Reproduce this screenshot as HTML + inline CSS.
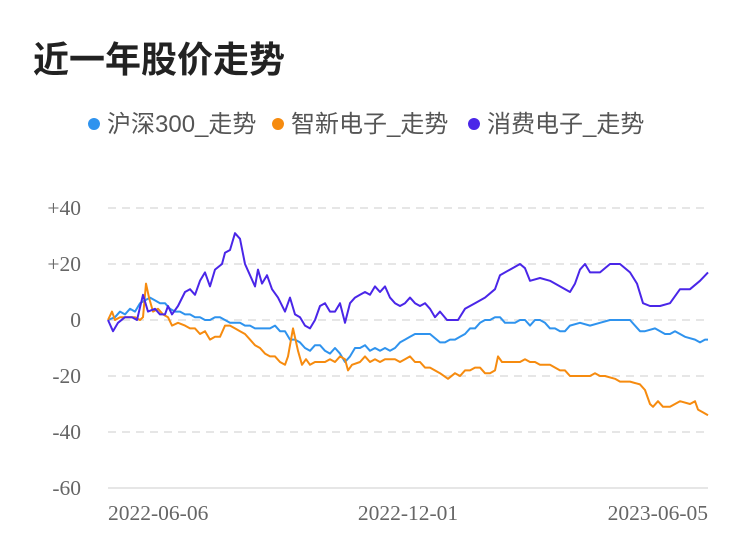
<!DOCTYPE html>
<html><head><meta charset="utf-8"><style>
body{margin:0;background:#fff;width:750px;height:558px;overflow:hidden}
.t{position:absolute;left:33px;top:31px;font:bold 36px "Liberation Sans","Noto Sans CJK SC",sans-serif;color:#222}
</style></head><body>
<div class="t">近一年股价走势</div>
<svg id="c" width="750" height="558" style="position:absolute;left:0;top:0"></svg>
<script>
const xTicks=[[0,"2022-06-06"],[300,"2022-12-01"],[600,"2023-06-05"]];
const yTicks=[40,20,0,-20,-40,-60];
const seriesNames=["沪深300_走势","智新电子_走势","消费电子_走势"];
const colors=["#2f93ee","#f68b0f","#4a26e8"];
const hs300=[[0,0],[7,1],[12,3],[17,2],[22,4],[27,3],[32,6],[37,7],[42,8],[47,7],[52,6],[57,6],[62,4],[67,3],[72,3],[77,2],[82,2],[87,1],[92,1],[97,0],[102,0],[107,1],[112,1],[117,0],[122,-1],[127,-1],[132,-1],[137,-2],[142,-2],[147,-3],[152,-3],[157,-3],[162,-3],[167,-2],[172,-4],[177,-4],[182,-7],[187,-7],[192,-8],[197,-10],[202,-11],[207,-9],[212,-9],[217,-11],[222,-12],[227,-10],[232,-12],[237,-15],[242,-13],[247,-10],[252,-10],[257,-9],[262,-11],[267,-10],[272,-11],[277,-10],[282,-11],[287,-10],[292,-8],[297,-7],[302,-6],[307,-5],[312,-5],[317,-5],[322,-5],[332,-8],[337,-8],[342,-7],[347,-7],[352,-6],[357,-5],[362,-3],[367,-3],[372,-1],[377,0],[382,0],[387,1],[392,1],[397,-1],[402,-1],[407,-1],[412,0],[417,0],[422,-2],[427,0],[432,0],[437,-1],[442,-3],[447,-3],[452,-4],[457,-4],[462,-2],[472,-1],[482,-2],[492,-1],[502,0],[512,0],[522,0],[532,-4],[537,-4],[547,-3],[557,-5],[562,-5],[567,-4],[577,-6],[587,-7],[592,-8],[597,-7],[600,-7]];
const zhixin=[[0,0],[4,3],[7,0],[12,1],[17,1],[22,1],[27,1],[32,0],[35,1],[38,13],[41,8],[45,3],[50,4],[55,2],[60,1],[64,-2],[70,-1],[77,-2],[82,-3],[87,-3],[92,-5],[97,-4],[102,-7],[107,-6],[112,-6],[117,-2],[122,-2],[127,-3],[132,-4],[137,-5],[142,-7],[147,-9],[152,-10],[157,-12],[162,-13],[167,-13],[172,-15],[177,-16],[180,-13],[185,-3],[190,-11],[194,-16],[198,-14],[202,-16],[207,-15],[212,-15],[217,-15],[222,-14],[227,-15],[232,-13],[237,-14],[240,-18],[244,-16],[252,-15],[257,-13],[262,-15],[267,-14],[272,-15],[277,-14],[282,-14],[287,-14],[292,-15],[297,-14],[302,-13],[307,-15],[312,-15],[317,-17],[322,-17],[332,-19],[340,-21],[347,-19],[352,-20],[357,-18],[362,-18],[367,-17],[372,-17],[377,-19],[382,-19],[387,-18],[390,-13],[394,-15],[402,-15],[407,-15],[412,-15],[417,-14],[422,-15],[427,-15],[432,-16],[437,-16],[442,-16],[452,-18],[457,-18],[462,-20],[467,-20],[472,-20],[482,-20],[487,-19],[492,-20],[497,-20],[507,-21],[512,-22],[522,-22],[532,-23],[537,-25],[542,-30],[545,-31],[550,-29],[555,-31],[562,-31],[567,-30],[572,-29],[582,-30],[587,-29],[590,-32],[595,-33],[600,-34]];
const xiaofei=[[0,0],[5,-4],[10,-1],[17,1],[24,1],[29,0],[35,9],[40,3],[47,4],[52,2],[57,2],[60,5],[64,2],[70,5],[77,10],[82,11],[87,9],[92,14],[97,17],[102,12],[107,18],[114,20],[117,24],[122,25],[127,31],[132,29],[137,20],[142,16],[147,12],[150,18],[154,13],[159,16],[164,11],[170,8],[177,3],[182,8],[187,2],[192,1],[197,-2],[202,-3],[207,0],[212,5],[217,6],[222,3],[227,3],[232,6],[237,-1],[242,6],[247,8],[252,9],[257,10],[262,9],[267,12],[272,10],[277,12],[282,8],[287,6],[292,5],[297,6],[302,8],[307,6],[312,5],[317,6],[322,4],[327,1],[332,3],[339,0],[350,0],[357,4],[367,6],[377,8],[387,11],[392,16],[402,18],[412,20],[417,18.5],[422,14],[432,15],[442,14],[452,12],[462,10],[467,13],[472,18],[477,20],[482,17],[492,17],[502,20],[512,20],[522,17],[529,13],[535,6],[542,5],[552,5],[562,6],[572,11],[582,11],[592,14],[600,17]];
const svg=document.getElementById('c');const NS='http://www.w3.org/2000/svg';
const L=108,R=708,T=208,B=488;
const xs=d=>L+(d-0)/(600-0)*(R-L);
const ys=v=>T+(40-v)/(40-(-60))*(B-T);
function mk(tag,attrs,txt){const e=document.createElementNS(NS,tag);for(const k in attrs)e.setAttribute(k,attrs[k]);if(txt!==undefined)e.textContent=txt;svg.appendChild(e);return e;}
yTicks.forEach(v=>{
 const g=mk('line',{x1:L,x2:R,y1:ys(v),y2:ys(v),stroke:'#e6e6e6','stroke-width':2,'stroke-dasharray':v===-60?'':'8,6'});
 
 
 const t=mk('text',{x:81,y:ys(v)+7,'text-anchor':'end',fill:'#666','font-size':21.5,'font-family':'Liberation Serif,serif'},(v>0?'+':'')+v);
 
 
});
xTicks.forEach(([d,s],i)=>{
 const t=mk('text',{x:xs(d),y:520,'text-anchor':i===0?'start':i===2?'end':'middle',fill:'#666','font-size':21.5,'font-family':'Liberation Serif,serif'},s);
 
 
});
[hs300,zhixin,xiaofei].forEach((s,i)=>{
 const p=mk('polyline',{points:s.map(([d,v])=>xs(d)+','+ys(v)).join(' '),fill:'none',stroke:colors[i],'stroke-width':2,'stroke-linejoin':'round'});
 
 
});
const lx=[88,272,468];
seriesNames.forEach((n,i)=>{
 const c=mk('circle',{cx:lx[i]+6,cy:124,r:6,fill:colors[i]});
 
 
 const t=mk('text',{x:lx[i]+19,y:132,fill:'#555','font-size':24,'font-family':'Liberation Sans,Noto Sans CJK SC,sans-serif'},n);
 
 
});
</script>
</body></html>
